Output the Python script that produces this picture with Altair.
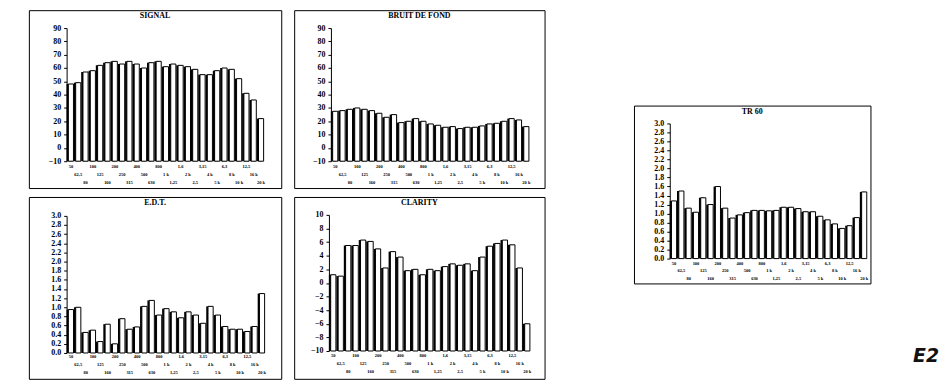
import altair as alt
import pandas as pd

# Third-octave band labels (three staggered rows in the original)
freq_labels = ["50", "62,5", "80", "100", "125", "160", "200", "250", "315",
               "400", "500", "630", "800", "1 k", "1,25", "1,6", "2 k", "2,5",
               "3,15", "4 k", "5 k", "6,3", "8 k", "10 k", "12,5", "16 k", "20 k"]

signal = [48, 49, 57, 58, 62, 64, 65, 63, 65, 63, 60, 64, 65, 61, 63, 62, 61,
          59, 55, 55, 58, 60, 59, 52, 41, 36, 22]
bruit = [27.5, 28, 29, 30, 29, 28, 26, 23, 25, 19, 20, 22, 20, 18, 17, 15.5,
         16, 14.5, 15.5, 15.5, 16.5, 18, 18.5, 20, 22, 21, 16]
edt = [0.95, 1.0, 0.45, 0.5, 0.25, 0.63, 0.2, 0.75, 0.52, 0.57, 1.02, 1.15,
       0.83, 0.97, 0.9, 0.77, 0.9, 0.83, 0.65, 1.02, 0.83, 0.58, 0.52, 0.52,
       0.47, 0.58, 1.3]
clarity = [1.2, 1.0, 5.5, 5.5, 6.3, 6.1, 5.0, 2.2, 4.6, 3.8, 1.8, 2.0, 1.2,
           2.0, 1.8, 2.4, 2.8, 2.6, 2.8, 1.8, 3.8, 5.4, 5.8, 6.3, 5.6, 2.2, -6.0]
tr60 = [1.28, 1.5, 1.12, 1.03, 1.35, 1.2, 1.6, 1.12, 0.9, 0.97, 1.02, 1.07,
        1.07, 1.06, 1.07, 1.14, 1.14, 1.11, 1.04, 1.04, 0.94, 0.86, 0.77, 0.67,
        0.73, 0.91, 1.48]

ticks_db = [-10, 0, 10, 20, 30, 40, 50, 60, 70, 80, 90]
ticks_clar = [-10, -8, -6, -4, -2, 0, 2, 4, 6, 8, 10]
ticks_sec = [0.0, 0.2, 0.4, 0.6, 0.8, 1.0, 1.2, 1.4, 1.6, 1.8, 2.0, 2.2, 2.4,
             2.6, 2.8, 3.0]

SERIF = "Liberation Serif"
lab_arr = "[" + ",".join("'" + s + "'" for s in freq_labels) + "]"
label_expr = f"{lab_arr}[datum.value]"


def panel(title, values, ticks, fmt, w, h, yr, xr, axis_x, lab_pad, line_h):
    df = pd.DataFrame({"idx": list(range(len(values))), "v": values})
    ymin, ymax = ticks[0], ticks[-1]
    pad_cond = {
        "condition": [
            {"test": "datum.value % 3 == 1", "value": lab_pad + line_h},
            {"test": "datum.value % 3 == 2", "value": lab_pad + 2 * line_h},
        ],
        "value": lab_pad,
    }
    x = alt.X(
        "idx:O",
        scale=alt.Scale(range=xr, paddingInner=0.3, paddingOuter=0.1),
        axis=alt.Axis(
            title=None, ticks=False, tickSize=0, domain=False, labelAngle=0,
            labelAlign="center", labelBaseline="middle", labelExpr=label_expr,
            labelFont=SERIF, labelFontSize=4.5, labelFontWeight="bold",
            labelColor="black", labelPadding=pad_cond,
            labelOverlap=False, labelBound=False, labelFlush=False,
            offset=-(h - yr[0]),
        ),
    )
    y = alt.Y(
        "v:Q",
        scale=alt.Scale(domain=[ymin, ymax], range=yr, nice=False, zero=False),
        axis=alt.Axis(
            title=None, values=ticks, format=fmt, grid=False, tickSize=3,
            tickColor="black", domainColor="black", labelColor="black",
            labelFont=SERIF, labelFontSize=8, labelFontWeight="bold",
            labelPadding=3, offset=-axis_x,
        ),
    )
    base = alt.Chart(df).encode(x=x, y=y, y2=alt.datum(ymin))
    shadow = base.mark_bar(color="black", xOffset=-1.8)
    bars = base.mark_bar(fill="white", stroke="black", strokeWidth=1)
    ttl = alt.Chart(pd.DataFrame({"t": [title]})).mark_text(
        font=SERIF, fontSize=8, fontWeight="bold", color="black",
        baseline="middle", align="center"
    ).encode(text="t:N", x=alt.value(w / 2), y=alt.value(6))
    return alt.layer(shadow, bars, ttl).properties(width=w, height=h)


def spacer(h, w=1):
    return alt.Chart(pd.DataFrame({"t": [""]})).mark_text().encode(
        text="t:N"
    ).properties(width=w, height=h,
                 view=alt.ViewBackground(strokeOpacity=0, fill="white"))


p_signal = panel("SIGNAL", signal, ticks_db, "d", 254, 179, [152, 18],
                 [39, 237], 38, 5, 8)
p_bruit = panel("BRUIT DE FOND", bruit, ticks_db, "d", 252, 179, [152, 18],
                [38, 237], 37, 5, 8)
p_edt = panel("E.D.T.", edt, ticks_sec, ".1f", 254, 183, [157, 19],
              [39, 238], 38, 4, 8)
p_clar = panel("CLARITY", clarity, ticks_clar, "d", 252, 183, [155, 18],
               [36, 238], 35, 5, 8)
p_tr = panel("TR 60", tr60, ticks_sec, ".1f", 238, 179, [154, 18],
             [37, 235], 36, 5, 7.5)

e2 = alt.Chart(pd.DataFrame({"t": ["E2"]})).mark_text(
    font="DejaVu Sans", fontSize=19, fontWeight="bold", fontStyle="italic",
    baseline="middle", align="center", color="#111"
).encode(text="t:N").properties(
    width=34, height=14,
    view=alt.ViewBackground(strokeOpacity=0, fill="white"))

col1 = alt.vconcat(p_signal, p_edt, spacing=7)
col2 = alt.vconcat(p_bruit, p_clar, spacing=7)
col3 = alt.vconcat(spacer(95), p_tr, spacing=0)
col4 = alt.vconcat(spacer(339), e2, spacing=0)

chart = alt.hconcat(
    alt.hconcat(col1, col2, spacing=11),
    alt.hconcat(col3, col4, spacing=38),
    spacing=88,
).properties(
    padding={"left": 20, "top": 0, "right": 0, "bottom": 0},
    background="white",
).configure_view(stroke="black", strokeWidth=1)

chart.save("out.html", embed_options={"renderer": "svg", "actions": False})
